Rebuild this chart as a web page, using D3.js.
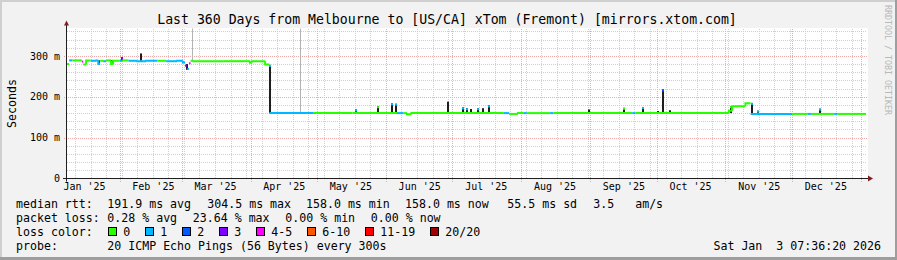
<!DOCTYPE html>
<html>
<head>
<meta charset="utf-8">
<script src="https://cdn.jsdelivr.net/npm/d3@7"></script>
<style>
  body { margin: 0; background: #f2f2f2; }
  svg { display: block; font-family: "DejaVu Sans Mono", monospace; }
</style>
</head>
<body>
<div id="chart"></div>
<script>
// **** THE DATA ****

const title = "Last 360 Days from Melbourne to [US/CA] xTom (Fremont) [mirrors.xtom.com]"
const startTime = "2025-01-08T07:36:20Z"
const endTime = "2026-01-03T07:36:20Z"
const yTickValues = [0, 0.1, 0.2, 0.3]          // seconds
const yTickLabels = ["0", "100 m", "200 m", "300 m"]

// median rtt as steps: the date a level starts, the level in ms, lost pings
const medianDates = ["2025-01-08T07", "2025-01-09T06", "2025-01-10T18", "2025-01-15T00", "2025-01-15T16",
  "2025-01-16T22", "2025-01-19T00", "2025-01-21T16", "2025-01-22T10", "2025-01-23T06",
  "2025-01-24T14", "2025-01-26T00", "2025-01-28T04", "2025-01-29T02", "2025-02-01T00",
  "2025-02-02T00", "2025-02-05T00", "2025-02-09T00", "2025-02-13T00", "2025-02-18T00",
  "2025-02-22T00", "2025-02-27T00", "2025-03-01T12", "2025-03-02T12", "2025-03-03T12",
  "2025-03-04T06", "2025-03-05T00", "2025-03-06T06", "2025-03-20T00", "2025-03-31T18",
  "2025-04-01T12", "2025-04-07T14",
  "2025-04-09T12", "2025-04-29T12", "2025-05-17T00", "2025-06-06T00", "2025-06-09T00",
  "2025-06-10T12", "2025-06-12T12", "2025-07-24T00", "2025-07-26T12", "2025-07-30T12",
  "2025-08-02T00", "2025-08-03T12", "2025-08-14T00", "2025-08-15T12", "2025-09-20T00",
  "2025-09-21T12", "2025-11-02T12", "2025-11-04T00", "2025-11-10T00", "2025-11-12T08",
  "2025-12-01T00", "2025-12-08T00", "2025-12-09T12", "2025-12-20T00", "2025-12-21T12"]
const medianMs = [280, 289, 289, 286, 279,
  289, 288, 289, 281, 288,
  287, 289, 280, 288, 288,
  289, 288, 287, 288, 288,
  287, 288, 284, 276, 268,
  282, 288, 287, 287, 283,
  287, 279,
  160, 160, 160, 160, 160,
  157, 160, 160, 158, 160,
  160, 160, 160, 160, 160,
  160, 166, 177, 184, 158,
  158, 158, 158, 158, 158]
const medianLoss = [0, 1, 0, 4, 0,
  0, 1, 1, 1, 0,
  1, 0, 0, 0, 1,
  0, 1, 1, 1, 0,
  1, 1, 1, 3, 1,
  4, 0, 0, 0, 0,
  0, 0,
  1, 0, 0, 1, 0,
  0, 0, 1, 0, 0,
  1, 0, 1, 0, 1,
  0, 0, 0, 0, 1,
  0, 1, 0, 1, 0]

// smoke columns (consolidated ping spread): date, low and high in ms,
// and the lost pings of the median peak drawn at the top (-1: none)
const smokeDates = ["2025-01-22T10", "2025-01-28T04", "2025-02-01T12", "2025-02-10T04", "2025-03-03T00",
  "2025-04-09T12", "2025-05-18T00", "2025-05-28T00", "2025-06-03T06", "2025-06-05T00", "2025-06-28T08",
  "2025-07-05T06", "2025-07-07T00", "2025-07-09T00", "2025-07-12T06", "2025-07-14T06", "2025-07-17T00",
  "2025-08-31T06", "2025-09-16T00", "2025-09-24T06", "2025-10-01T00", "2025-10-03T12", "2025-10-06T12",
  "2025-11-03T00", "2025-11-12T08", "2025-11-15T00", "2025-12-13T00"]
const smokeLow = [279, 279, 287, 288, 266,
  160, 160, 160, 160, 160, 160,
  160, 160, 160, 160, 160, 160,
  160, 160, 160, 160, 160, 160,
  160, 158, 158, 158]
const smokeHigh = [289, 290, 297, 306, 280,
  278, 169, 177, 184, 183, 188,
  174, 172, 170, 172, 172, 179,
  169, 173, 175, 165, 218, 167,
  177, 185, 166, 171]
const smokeTipLoss = [-1, -1, 3, -1, -1,
  1, 1, 0, 1, 1, -1,
  1, 1, -1, 1, -1, 1,
  -1, 0, 1, -1, 2, -1,
  0, 1, 1, 1]

// gaps with lost samples, drawn as pale smoke up to the top
const gapDates = ["2025-03-05T19", "2025-04-23T10"]
const gapLow = [290, 160]

const statLabels = ["median rtt:", "packet loss:", "loss color:", "probe:"]
const medianStats = ["191.9 ms avg", "304.5 ms max", "158.0 ms min", "158.0 ms now", "55.5 ms sd", "3.5   am/s"]
const lossStats = ["0.28 % avg", "23.64 % max", "0.00 % min", "0.00 % now"]
const lossNames = ["0", "1", "2", "3", "4-5", "6-10", "11-19", "20/20"]
const lossColors = ["#26ff00", "#00b8ff", "#0059ff", "#7e00ff", "#ff00ff", "#ff5500", "#ff0000", "#a10000"]
const probeText = "20 ICMP Echo Pings (56 Bytes) every 300s"
const stamp = "Sat Jan  3 07:36:20 2026"
const watermark = "RRDTOOL / TOBI OETIKER"

// **** THE SETUP ****

const W = 897, H = 260
const plot = {left: 67, right: 866, top: 28.5, bottom: 178.5}
const parse = s => new Date(s.length === 13 ? s + ":00:00Z" : s)
const t0 = parse(startTime), t1 = parse(endTime)

const x = d3.scaleUtc().domain([t0, t1]).range([plot.left, plot.right])
const y = d3.scaleLinear().domain([0, 0.367]).range([plot.bottom, plot.top])

const median = medianDates.map((d, i) => ({t: parse(d), v: medianMs[i] / 1000, loss: medianLoss[i]}))
const lossColor = n => n === 0 ? lossColors[0] : n === 1 ? lossColors[1] : n === 2 ? lossColors[2]
  : n === 3 ? lossColors[3] : n <= 5 ? lossColors[4] : n <= 10 ? lossColors[5] : n <= 19 ? lossColors[6] : lossColors[7]

const svg = d3.select("#chart").append("svg").attr("width", W).attr("height", H)

// background and 3d frame
svg.append("rect").attr("width", W).attr("height", H).attr("fill", "#f2f2f2")
svg.append("path").attr("d", `M0,0H${W}V2H2V${H}H0Z`).attr("fill", "#cfcfcf")
svg.append("path").attr("d", `M${W},0V${H}H0V${H - 3}H${W - 2}V0Z`).attr("fill", "#9e9e9e")

// canvas
svg.append("rect")
  .attr("x", plot.left).attr("y", plot.top - 0.5)
  .attr("width", plot.right - plot.left + 2).attr("height", plot.bottom - plot.top + 0.5)
  .attr("fill", "#fff")

const grid = svg.append("g").attr("shape-rendering", "crispEdges").attr("fill", "none")

// minor grid: every 20 ms and every week (sundays)
grid.selectAll(".hmin").data(d3.range(0.02, 0.367, 0.02).filter(v => Math.round(v * 100) % 10 !== 0))
  .join("line").attr("class", "hmin")
  .attr("x1", plot.left).attr("x2", plot.right + 1)
  .attr("y1", d => Math.round(y(d)) + 0.5).attr("y2", d => Math.round(y(d)) + 0.5)
  .attr("stroke", "#cfcfcf").attr("stroke-dasharray", "1,1")
grid.selectAll(".vmin").data(d3.utcSunday.range(t0, t1))
  .join("line").attr("class", "vmin")
  .attr("x1", d => Math.round(x(d)) + 0.5).attr("x2", d => Math.round(x(d)) + 0.5)
  .attr("y1", plot.top).attr("y2", plot.bottom)
  .attr("stroke", "#cfcfcf").attr("stroke-dasharray", "1,1")

// major grid: every 100 ms and every month
grid.selectAll(".hmaj").data([0.1, 0.2, 0.3])
  .join("line").attr("class", "hmaj")
  .attr("x1", plot.left - 3).attr("x2", plot.right + 2)
  .attr("y1", d => Math.round(y(d)) + 0.5).attr("y2", d => Math.round(y(d)) + 0.5)
  .attr("stroke", "#eea9a9").attr("stroke-dasharray", "1,1")
grid.selectAll(".vmaj").data(d3.utcMonth.range(t0, t1))
  .join("line").attr("class", "vmaj")
  .attr("x1", d => Math.round(x(d)) + 0.5).attr("x2", d => Math.round(x(d)) + 0.5)
  .attr("y1", plot.top).attr("y2", plot.bottom + 4)
  .attr("stroke", "#eea9a9").attr("stroke-dasharray", "1,1")

// pale smoke where samples were lost
svg.selectAll(".gap").data(gapDates)
  .join("rect").attr("class", "gap")
  .attr("x", d => Math.round(x(parse(d))))
  .attr("width", 1)
  .attr("y", plot.top)
  .attr("height", (d, i) => y(gapLow[i] / 1000) - plot.top)
  .attr("fill", "#b4b4b4")

// dark smoke
svg.selectAll(".smoke").data(smokeDates)
  .join("rect").attr("class", "smoke")
  .attr("x", d => Math.round(x(parse(d))))
  .attr("width", 2)
  .attr("y", (d, i) => y(smokeHigh[i] / 1000))
  .attr("height", (d, i) => y(smokeLow[i] / 1000) - y(smokeHigh[i] / 1000))
  .attr("fill", "#1e1e1e")

// median line, coloured by loss, drawn as steps
const medianG = svg.append("g").attr("fill", "none").attr("stroke-width", 2)
median.forEach((d, i) => {
  const xa = x(d.t), xb = i < median.length - 1 ? x(median[i + 1].t) : plot.right
  const prev = median[i - 1]
  let path = d3.path()
  if (prev && prev.loss === d.loss) { path.moveTo(xa, y(prev.v)); path.lineTo(xa, y(d.v)) }
  else path.moveTo(xa, y(d.v))
  path.lineTo(xb, y(d.v))
  medianG.append("path").attr("d", path.toString()).attr("stroke", lossColor(d.loss))
})

// median peaks at the top of the smoke
svg.selectAll(".tip").data(smokeDates.filter((d, i) => smokeTipLoss[i] >= 0))
  .join("rect").attr("class", "tip")
  .attr("x", d => Math.round(x(parse(d))))
  .attr("width", 2).attr("height", 2)
  .attr("y", d => y(smokeHigh[smokeDates.indexOf(d)] / 1000))
  .attr("fill", d => lossColor(smokeTipLoss[smokeDates.indexOf(d)]))

// axes
svg.append("line").attr("x1", plot.left - 0.5).attr("x2", plot.left - 0.5)
  .attr("y1", plot.bottom + 3).attr("y2", plot.top - 4).attr("stroke", "#1f1f1f")
svg.append("line").attr("x1", plot.left - 4).attr("x2", plot.right + 4)
  .attr("y1", plot.bottom).attr("y2", plot.bottom).attr("stroke", "#1f1f1f")
svg.append("path").attr("fill", "#801f1f")
  .attr("d", `M${plot.left - 3},${plot.top - 3}L${plot.left - 0.5},${plot.top - 8}L${plot.left + 2},${plot.top - 3}Z`)
svg.append("path").attr("fill", "#801f1f")
  .attr("d", `M${plot.right + 2},${plot.bottom - 3}L${plot.right + 7},${plot.bottom}L${plot.right + 2},${plot.bottom + 3}Z`)

// y labels
const yAxis = svg.append("g").attr("transform", `translate(${plot.left - 7},0)`)
  .call(d3.axisLeft(y).tickValues(yTickValues).tickSize(0).tickPadding(0)
    .tickFormat((d, i) => yTickLabels[i]))
yAxis.select(".domain").remove()
yAxis.selectAll("text").attr("font-family", "DejaVu Sans Mono").attr("font-size", 10).attr("fill", "#000")

// x labels, centred half a month after each month start
const labelDates = d3.utcMonth.range(d3.utcMonth.floor(t0), t1).map(m => d3.utcDay.offset(m, 15))
  .filter(d => d >= t0 && d <= t1)
const xAxis = svg.append("g").attr("transform", `translate(0,${plot.bottom + 4})`)
  .call(d3.axisBottom(x).tickValues(labelDates).tickSize(0).tickPadding(0)
    .tickFormat(d3.utcFormat("%b '%y")))
xAxis.select(".domain").remove()
xAxis.selectAll("text").attr("font-family", "DejaVu Sans Mono").attr("font-size", 10).attr("fill", "#000")

// titles
svg.append("text").attr("x", 447).attr("y", 23.5).attr("text-anchor", "middle")
  .attr("font-size", 13.2).text(title)
svg.append("text").attr("transform", `translate(15.5,${(plot.top + plot.bottom) / 2}) rotate(-90)`)
  .attr("text-anchor", "middle").attr("font-size", 11.6).text("Seconds")
svg.append("text").attr("transform", "translate(885,5) rotate(90)")
  .attr("font-size", 8.3).attr("fill", "#b8b8b8").text(watermark)

// legend: items laid out one after another, 7px per character, 15px glue
const leg = svg.append("g").attr("font-size", 11.6).attr("fill", "#000")
const rows = [208, 222, 236, 250], col = 107.3, charW = 7, glue = 15
statLabels.forEach((s, i) => leg.append("text").attr("x", 16).attr("y", rows[i]).attr("xml:space", "preserve").text(s))
const medianX = [col, 207.3, 306, 405, 507.3, 593.3]
medianStats.forEach((s, i) => leg.append("text").attr("x", medianX[i]).attr("y", rows[0]).attr("xml:space", "preserve").text(s))
let lx = col
lossStats.forEach(s => {
  leg.append("text").attr("x", lx).attr("y", rows[1]).attr("xml:space", "preserve").text(s)
  lx += s.length * charW + glue + 0.5
})
let bx = col + 1
lossNames.forEach((s, i) => {
  leg.append("rect").attr("x", Math.round(bx) + 0.5).attr("y", 227.5).attr("width", 8).attr("height", 8)
    .attr("fill", lossColors[i]).attr("stroke", "#000")
  leg.append("text").attr("x", bx + 15).attr("y", rows[2]).text(s)
  bx += 15 + s.length * charW + glue
})
leg.append("text").attr("x", col).attr("y", rows[3]).text(probeText)
leg.append("text").attr("x", 881).attr("y", rows[3]).attr("text-anchor", "end").attr("xml:space", "preserve").text(stamp)
</script>
</body>
</html>
